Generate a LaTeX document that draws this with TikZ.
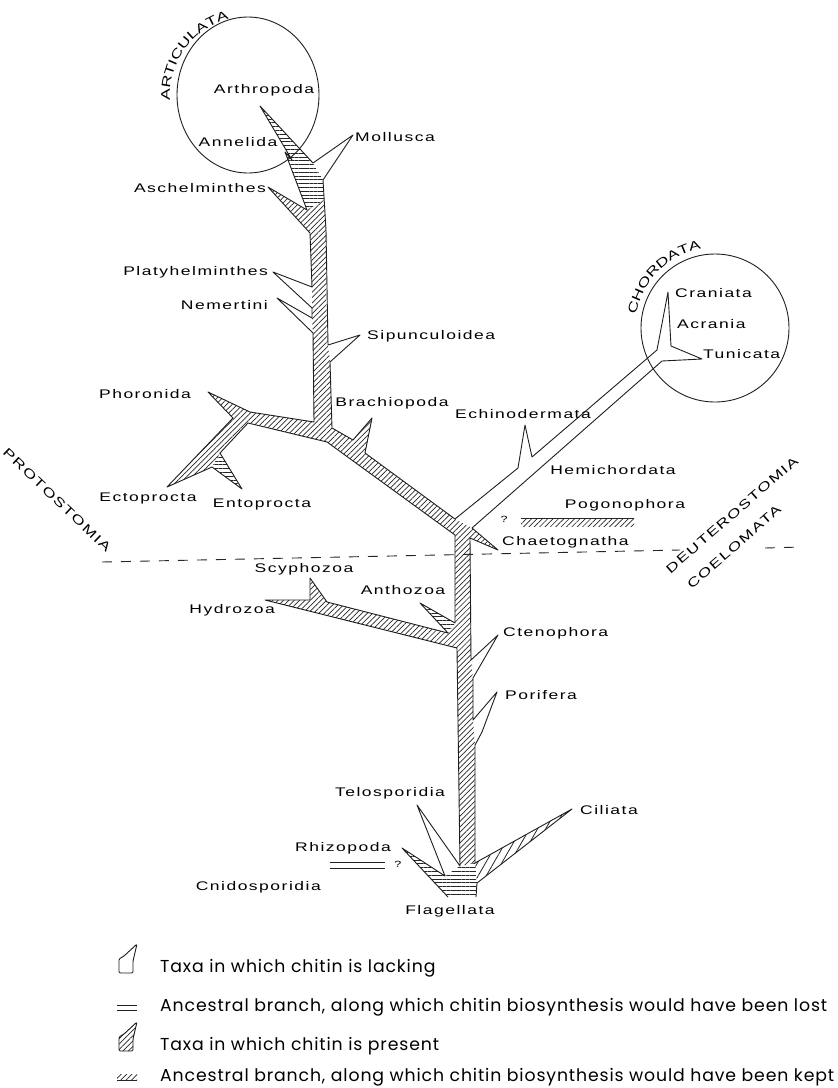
\documentclass[tikz,border=0pt]{standalone}
\usepackage{fontspec}
\newfontfamily\lblfamily[FakeStretch=1.4,LetterSpace=12]{Liberation Sans}
\newfontfamily\capfamily[FakeStretch=1.4]{Liberation Sans}
\newfontfamily\legfamily[LetterSpace=5]{Poppins}
\newcommand\lblsize{\lblfamily\fontsize{12.5}{14}\selectfont}
\newcommand\capsize{\capfamily\fontsize{12.5}{14}\selectfont}
\newcommand\legsize{\legfamily\fontsize{17.3}{19}\selectfont}
\usetikzlibrary{patterns.meta,decorations.text}
\begin{document}
\begin{tikzpicture}[x=1pt,y=-1pt,
  lbl/.style={font=\lblsize, inner sep=0pt},
  qmark/.style={font=\lblfamily\fontsize{9}{10}\selectfont, inner sep=0pt},
  legtext/.style={font=\legsize, inner sep=0pt, anchor=west},
  outl/.style={draw=black!88, line width=0.9pt, line join=round},
  hatchD/.style={pattern={Lines[angle=45,distance=3.8pt,line width=0.7pt]}, pattern color=black!85},
  hatchH/.style={pattern={Lines[angle=0,distance=3.8pt,line width=0.7pt]}, pattern color=black!85},
  hatchS/.style={pattern={Lines[angle=60,distance=7pt,line width=0.8pt]}, pattern color=black!85},
  sepline/.style={draw=black!85, line width=0.9pt, dash pattern=on 10pt off 9pt}]
\fill[white] (0,0) rectangle (838,1088);
\useasboundingbox (0,0) rectangle (838,1088);

% ---------- hatched fills ----------
\fill[hatchD] (324,200) -- (326,230) -- (327,337) -- (328,345) -- (330,362) -- (332,428)
  -- (353,440) -- (372,418) -- (365,453) -- (455,519) -- (472,528) -- (498,550) -- (470,538)
  -- (471,660) -- (473,678) -- (473,720) -- (475,745) -- (475,863) -- (460,866) -- (457,648)
  -- (265,600) -- (310,600) -- (310,578) -- (327,602) -- (448,633) -- (455,623) -- (455,535)
  -- (327,442) -- (248,423) -- (220,453) -- (212,467) -- (167,487) -- (233,418) -- (208,392)
  -- (250,412) -- (314,422) -- (313,333) -- (312,318) -- (312,308) -- (312,287) -- (310,233)
  -- (268,187) -- (307,210) -- cycle;
\fill[hatchH] (307,210) -- (285,152) -- (292,160) -- (260,106) -- (313,163) -- (323,180) -- (324,200) -- cycle;
\fill[hatchH] (220,453) -- (242,489) -- (212,467) -- cycle;
\fill[hatchH] (448,633) -- (420,603) -- (455,623) -- cycle;
\fill[hatchH] (402,848) -- (445,876) -- (460,866) -- (475,863) -- (477,883) -- (476,897) -- (448,897) -- cycle;
\fill[hatchS] (475,863) -- (572,809) -- (477,883) -- cycle;

% ---------- outline of the tree ----------
\draw[outl] (448,897) -- (402,848) -- (445,876) -- (417,805) -- (460,866) -- (457,648)
  -- (265,600) -- (310,600) -- (310,578) -- (327,602) -- (448,633) -- (420,603) -- (455,623)
  -- (455,535) -- (327,442) -- (248,423) -- (220,453) -- (242,489) -- (212,467) -- (167,487)
  -- (233,418) -- (208,392) -- (250,412) -- (314,422) -- (313,333) -- (277,298) -- (312,318)
  -- (312,308) -- (273,272) -- (312,287) -- (310,233) -- (268,187) -- (307,210) -- (285,152)
  -- (292,160) -- (260,106) -- (313,163) -- (353,135) -- (323,180) -- (326,230) -- (328,345)
  -- (360,335) -- (330,362) -- (332,428) -- (353,440) -- (372,418) -- (365,453) -- (455,519)
  -- (518,468) -- (525,425) -- (532,457) -- (657,350) -- (668,292) -- (671,346) -- (702,359)
  -- (662,361) -- (472,528) -- (498,550) -- (470,538) -- (471,660) -- (498,635) -- (473,678)
  -- (473,720) -- (497,692) -- (482,732) -- (475,745) -- (475,863) -- (572,809) -- (477,883)
  -- (476,897);

% ---------- circles ----------
\draw[outl] (248,95) ellipse [x radius=71, y radius=78];
\draw[outl] (715,328) circle [radius=74];
\path[decorate, decoration={text along path, text={|\capsize|ARTICULATA}, text align=center}]
  (248,95) ++(156:78) arc [start angle=156, end angle=276, radius=78];
\path[decorate, decoration={text along path, text={|\capsize|CHORDATA}, text align=center}]
  (715,328) ++(165:80) arc [start angle=165, end angle=285, radius=80];

% ---------- separation line ----------
\draw[sepline] (102,562) -- (680,550);
\draw[sepline] (765,548) -- (802,547);
\node[lbl, rotate=-43.6] (proto) at (57,500) {PROTOSTOMIA};
\node[lbl, rotate=41] (deutero) at (732,515) {DEUTEROSTOMIA};
\node[lbl, rotate=41] (coelo) at (734,547) {COELOMATA};

% ---------- lost / kept branches ----------
\draw[line width=0.9pt, draw=black!88] (330,862) -- (385,862);
\draw[line width=0.9pt, draw=black!88] (330,868) -- (385,868);
\node[qmark] (q1) at (398,864) {?};
\fill[hatchD] (521,518) rectangle (634,526);
\draw[line width=0.7pt, draw=black!85] (521,518) -- (634,518);
\node[qmark] (q2) at (504,519) {?};

% ---------- taxon labels ----------
\node[lbl] (arthropoda) at (264,90) {Arthropoda};
\node[lbl] (annelida) at (238,142) {Annelida};
\node[lbl] (mollusca) at (395,137) {Mollusca};
\node[lbl, anchor=east] (aschel) at (266,188) {Aschelminthes};
\node[lbl, anchor=east] (platy) at (268,272) {Platyhelminthes};
\node[lbl, anchor=east] (nemert) at (268,305) {Nemertini};
\node[lbl, anchor=west] (sipun) at (367,336) {Sipunculoidea};
\node[lbl] (phoron) at (145,394) {Phoronida};
\node[lbl] (brachio) at (392,403) {Brachiopoda};
\node[lbl] (echino) at (523,414) {Echinodermata};
\node[lbl] (hemi) at (613,470) {Hemichordata};
\node[lbl] (pogono) at (625,505) {Pogonophora};
\node[lbl] (ecto) at (148,498) {Ectoprocta};
\node[lbl] (ento) at (262,504) {Entoprocta};
\node[lbl, anchor=west] (chaeto) at (502,542) {Chaetognatha};
\node[lbl] (scypho) at (304,569) {Scyphozoa};
\node[lbl] (antho) at (403,590) {Anthozoa};
\node[lbl, anchor=east] (hydro) at (275,610) {Hydrozoa};
\node[lbl, anchor=west] (cteno) at (503,633) {Ctenophora};
\node[lbl, anchor=west] (porif) at (505,695) {Porifera};
\node[lbl] (telos) at (390,793) {Telosporidia};
\node[lbl, anchor=west] (cilia) at (580,810) {Ciliata};
\node[lbl] (rhizo) at (343,848) {Rhizopoda};
\node[lbl, anchor=east] (cnido) at (321,887) {Cnidosporidia};
\node[lbl] (flag) at (450,911) {Flagellata};
\node[lbl, anchor=west] (crani) at (675,293) {Craniata};
\node[lbl, anchor=west] (acran) at (677,324) {Acrania};
\node[lbl, anchor=west] (tunic) at (703,354) {Tunicata};

% ---------- legend ----------
\draw[outl, rounded corners=1.2pt] (119,973) -- (119,959) -- (124,956) -- (137,944) -- (133,961) -- (133,973) -- cycle;
\node[legtext] (leg1) at (160,968) {Taxa in which chitin is lacking};
\draw[line width=0.9pt, draw=black!88] (117,1005) -- (137,1005);
\draw[line width=0.9pt, draw=black!88] (117,1010) -- (137,1010);
\node[legtext] (leg2) at (160,1007) {Ancestral branch, along which chitin biosynthesis would have been lost};
\filldraw[outl, hatchD, rounded corners=1.2pt] (119,1051) -- (119,1037) -- (124,1034) -- (137,1022) -- (133,1039) -- (133,1051) -- cycle;
\node[legtext] (leg3) at (160,1046) {Taxa in which chitin is present};
\fill[hatchD] (117,1074) rectangle (137,1080);
\draw[line width=0.7pt, draw=black!85] (117,1080) -- (137,1080);
\node[legtext] (leg4) at (160,1077) {Ancestral branch, along which chitin biosynthesis would have been kept};
\end{tikzpicture}
\end{document}
